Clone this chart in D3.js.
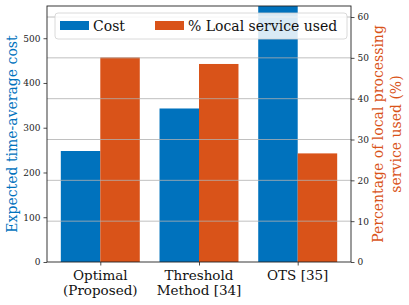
<!DOCTYPE html>
<html>
<head>
<meta charset="utf-8">
<script src="https://cdn.jsdelivr.net/npm/d3@7"></script>
<style>
  body { margin: 0; background: #fff; }
  svg { display: block; }
  svg text { font-family: "DejaVu Serif", serif; }
</style>
</head>
<body>
<svg id="chart"></svg>
<script>
var width = 409, height = 305;

// data
var methods = [["Optimal", "(Proposed)"], ["Threshold", "Method [34]"], ["OTS [35]"]];
var cost = [248, 343, 620];
var localUsed = [50.1, 48.5, 26.6];
var costTicks = [0, 100, 200, 300, 400, 500];
var pctTicks = [0, 10, 20, 30, 40, 50, 60];

var blue = "#0072BD", orange = "#D95319";
// plot box (note: "top" is a reserved window property, so use other names)
var pLeft = 47, pRight = 351, pTop = 6, pBottom = 262;

var svg = d3.select("#chart").attr("width", width).attr("height", height);

var x = d3.scaleLinear().domain([-0.54, 2.54]).range([pLeft, pRight]);
var yCost = d3.scaleLinear().domain([0, 572]).range([pBottom, pTop]);
var yPct = d3.scaleLinear().domain([0, 62.7]).range([pBottom, pTop]);
var barW = 0.4;

svg.append("clipPath").attr("id", "plotclip")
    .append("rect").attr("x", pLeft).attr("y", pTop)
    .attr("width", pRight - pLeft).attr("height", pBottom - pTop);

var plot = svg.append("g").attr("clip-path", "url(#plotclip)");

plot.selectAll(".cost").data(cost).enter().append("rect")
    .attr("class", "cost")
    .attr("x", (d, i) => x(i - barW))
    .attr("width", x(barW) - x(0))
    .attr("y", d => yCost(d))
    .attr("height", d => pBottom - yCost(d))
    .attr("fill", blue);

plot.selectAll(".pct").data(localUsed).enter().append("rect")
    .attr("class", "pct")
    .attr("x", (d, i) => x(i))
    .attr("width", x(barW) - x(0))
    .attr("y", d => yPct(d))
    .attr("height", d => pBottom - yPct(d))
    .attr("fill", orange);

// grid from the right axis, drawn over the bars
plot.selectAll(".grid").data(pctTicks.slice(1)).enter().append("line")
    .attr("x1", pLeft).attr("x2", pRight)
    .attr("y1", d => yPct(d)).attr("y2", d => yPct(d))
    .attr("stroke", "#b0b0b0").attr("stroke-width", 0.8);

// axes
var axL = svg.append("g").attr("transform", `translate(${pLeft},0)`)
    .call(d3.axisLeft(yCost).tickValues(costTicks).tickSize(3.5).tickPadding(3));
var axR = svg.append("g").attr("transform", `translate(${pRight},0)`)
    .call(d3.axisRight(yPct).tickValues(pctTicks).tickSize(3.5).tickPadding(3));
var axB = svg.append("g").attr("transform", `translate(0,${pBottom})`)
    .call(d3.axisBottom(x).tickValues([0, 1, 2]).tickSize(3.5).tickFormat(""));

[axL, axR].forEach(a => {
    a.select(".domain").remove();
    a.selectAll("text").attr("font-size", 9).attr("fill", "#222");
    a.selectAll("line").attr("stroke", "#222").attr("stroke-width", 0.8);
});
axB.select(".domain").remove();
axB.selectAll("line").attr("stroke", "#222").attr("stroke-width", 0.8);

// category labels
var xl = svg.append("g");
methods.forEach((lines, i) => {
    var t = xl.append("text")
        .attr("x", x(i)).attr("y", 280)
        .attr("text-anchor", "middle")
        .attr("font-size", 13.5).attr("fill", "#111");
    lines.forEach((s, j) => {
        t.append("tspan").attr("x", x(i)).attr("dy", j ? 14.5 : 0).text(s);
    });
});

// frame
svg.append("rect").attr("x", pLeft).attr("y", pTop)
    .attr("width", pRight - pLeft).attr("height", pBottom - pTop)
    .attr("fill", "none").attr("stroke", "#222").attr("stroke-width", 0.9);

// legend
var lg = svg.append("g");
lg.append("rect").attr("x", 55).attr("y", 13).attr("width", 292).attr("height", 26)
    .attr("rx", 3).attr("fill", "#fff").attr("fill-opacity", 0.85)
    .attr("stroke", "#d0d0d0").attr("stroke-width", 0.8);
var legendItems = [["Cost", blue, 60], ["% Local service used", orange, 155]];
legendItems.forEach(d => {
    lg.append("rect").attr("x", d[2]).attr("y", 21).attr("width", 29).attr("height", 9).attr("fill", d[1]);
    lg.append("text").attr("x", d[2] + 33).attr("y", 31).attr("font-size", 14).attr("fill", "#111").text(d[0]);
});

// axis titles
svg.append("text")
    .attr("transform", `translate(17,${(pTop + pBottom) / 2}) rotate(-90)`)
    .attr("text-anchor", "middle").attr("font-size", 14).attr("fill", blue)
    .text("Expected time-average cost");

var rt = svg.append("text")
    .attr("transform", `translate(383,${(pTop + pBottom) / 2}) rotate(-90)`)
    .attr("text-anchor", "middle").attr("font-size", 14).attr("fill", orange);
rt.append("tspan").attr("x", 0).attr("dy", 0).text("Percentage of local processing");
rt.append("tspan").attr("x", 0).attr("dy", 18).text("service used (%)");
</script>
</body>
</html>
